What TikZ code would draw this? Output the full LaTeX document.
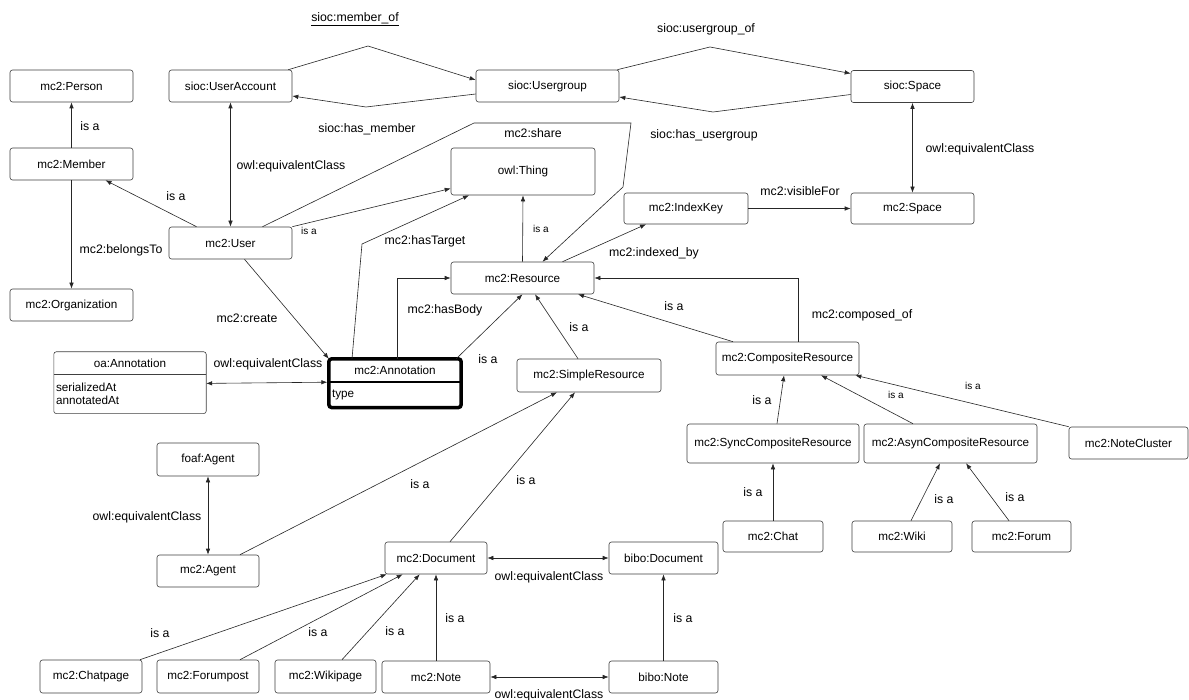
\documentclass[tikz,border=0pt]{standalone}
\usepackage{fontspec}
\setmainfont{Liberation Sans}
\usetikzlibrary{arrows.meta, positioning}

\begin{document}
\begin{tikzpicture}[
    x=1pt, y=-1pt,
    every node/.style={font=\fontsize{11.7}{12.5}\selectfont},
    cls/.style={draw=black!75, line width=0.6pt, rounded corners=2.5pt, minimum width=123pt, minimum height=32pt, inner sep=0pt},
    part/.style={inner sep=0pt},
    lbl/.style={font=\fontsize{12.3}{14}\selectfont, inner sep=0pt},
    slbl/.style={font=\fontsize{10}{12}\selectfont, inner sep=0pt},
    rel/.style={line width=0.6pt, black!85},
    >={Latex[length=6pt,width=4.5pt]},
  ]
  \path[use as bounding box, fill=white] (0,0) rectangle (1189,700);

  % sioc side
  \node[cls] (person) at (71.5,86) {mc2:Person};
  \node[cls] (uacc) at (230.5,86) {sioc:UserAccount};
  \node[cls, minimum width=143pt] (ugroup) at (547.5,86) {sioc:Usergroup};
  \node[cls] (sspace) at (912.5,86.5) {sioc:Space};
  \node[cls] (member) at (71.5,164) {mc2:Member};
  \node[cls] (user) at (230.5,243) {mc2:User};
  \node[cls] (org) at (71.5,305) {mc2:Organization};
  \node[cls, minimum width=144pt, minimum height=47pt] (thing) at (523,171.5) {owl:Thing};
  \node[cls, minimum width=124pt, minimum height=31pt] (idx) at (686,208.5) {mc2:IndexKey};
  \node[cls, minimum height=31pt] (mspace) at (912.5,208.5) {mc2:Space};

  % resources
  \node[cls, minimum width=143pt] (res) at (522.5,278) {mc2:Resource};
  \node[cls, minimum width=144pt, minimum height=33pt] (simple) at (589,375.5) {mc2:SimpleResource};
  \node[cls, minimum width=143pt, minimum height=33pt] (comp) at (787.5,358.5) {mc2:CompositeResource};
  \node[cls, minimum width=172pt, minimum height=39pt] (sync) at (773,443.5) {mc2:SyncCompositeResource};
  \node[cls, minimum width=173pt, minimum height=39pt] (asyn) at (950.5,443.5) {mc2:AsynCompositeResource};
  \node[cls, minimum width=119pt] (ncluster) at (1128.5,443) {mc2:NoteCluster};
  \node[cls, minimum width=100pt, minimum height=31pt] (chat) at (773,536.5) {mc2:Chat};
  \node[cls, minimum width=100pt, minimum height=31pt] (wiki) at (902,536.5) {mc2:Wiki};
  \node[cls, minimum width=99pt, minimum height=31pt] (forum) at (1021.5,536.5) {mc2:Forum};

  % agents and documents
  \node[cls, minimum width=102pt, minimum height=33pt] (foaf) at (208,459.5) {foaf:Agent};
  \node[cls, minimum width=102pt] (magent) at (208,571) {mc2:Agent};
  \node[cls, minimum width=102pt] (doc) at (436,558) {mc2:Document};
  \node[cls, minimum width=109pt] (bdoc) at (663.5,558) {bibo:Document};
  \node[cls, minimum width=102pt, minimum height=33pt] (cpage) at (91,676.5) {mc2:Chatpage};
  \node[cls, minimum width=102pt, minimum height=33pt] (fpost) at (208,676.5) {mc2:Forumpost};
  \node[cls, minimum width=101pt, minimum height=33pt] (wpage) at (325.5,676.5) {mc2:Wikipage};
  \node[cls, minimum width=108pt] (note) at (436,677) {mc2:Note};
  \node[cls, minimum width=109pt] (bnote) at (663.5,677) {bibo:Note};

  % annotation classes
  \node[part, minimum width=152pt, minimum height=22pt] (oahead) at (130,363) {oa:Annotation};
  \node[part, minimum width=152pt, minimum height=39pt, text width=148pt, align=left, anchor=north] (oabody) at (oahead.south) {serializedAt\\annotatedAt};
  \draw[line width=0.6pt, draw=black!75, rounded corners=2.5pt] (oahead.north west) rectangle (oabody.south east);
  \draw[line width=0.6pt, draw=black!75] (oahead.south west) -- (oahead.south east);

  \node[part, minimum width=132pt, minimum height=23pt] (annhead) at (395,370.5) {mc2:Annotation};
  \node[part, minimum width=132pt, minimum height=25pt, text width=126pt, align=left, anchor=north] (annbody) at (annhead.south) {type};
  \draw[line width=3.5pt, rounded corners=3pt] (annhead.north west) rectangle (annbody.south east);
  \draw[line width=2.5pt] (annhead.south west) -- (annhead.south east);

  % connectors
  \draw[rel, ->] ([xshift=-4pt]uacc.north east) -- (368,46) -- ([yshift=6pt]ugroup.west);
  \draw[rel, ->] ([yshift=-8pt]ugroup.west) -- (366,107) -- ([yshift=-10pt]uacc.east);
  \draw[rel, ->] ([xshift=-2pt]ugroup.north east) -- (710,47) -- ([yshift=13pt]sspace.west);
  \draw[rel, ->] ([yshift=-8pt]sspace.west) -- (713,112) -- ([yshift=-11pt]ugroup.east);
  \draw[rel, <->] (sspace.south) -- (mspace.north);
  \draw[rel, ->] (idx.east) -- (mspace.west);

  \draw[rel, ->] (member.north) -- (person.south);
  \draw[rel, ->] (member.south) -- (org.north);
  \draw[rel, <->] (uacc.south) -- (user.north);
  \draw[rel, ->] ([xshift=-34pt]user.north) -- ([xshift=34pt]member.south);
  \draw[rel, ->] (user.north east) -- ([yshift=-17pt]thing.west);
  \draw[rel, ->] ([xshift=32pt]user.north) -- (474,123) -- (631,123) -- (623,187) -- ([xshift=20pt]res.north);
  \draw[rel, ->] ([xshift=14pt]user.south) -- (annhead.north west);

  \draw[rel, ->] ([xshift=-43pt]annhead.north) -- (362,244) -- ([xshift=-54pt]thing.south);
  \draw[rel, ->] ([xshift=2pt]annhead.north) |- (res.west);
  \draw[rel, ->] ([xshift=-5pt]annhead.north east) -- (res.south);
  \draw[rel, <->] ([yshift=10.5pt]oabody.east) -- ([xshift=-1.5pt]annhead.south west);

  \draw[rel, ->] (res.north) -- (thing.south);
  \draw[rel, ->] ([xshift=40pt]res.north) -- ([xshift=-40pt]idx.south);
  \draw[rel, ->] ([xshift=-11pt]simple.north) -- ([xshift=12.5pt]res.south);
  \draw[rel, ->] ([xshift=-54.5pt]comp.north) -- ([xshift=55.5pt]res.south);
  \draw[rel, ->] ([xshift=10.5pt]comp.north) |- (res.east);

  \draw[rel, ->] ([xshift=4pt]sync.north) -- ([xshift=-3.5pt]comp.south);
  \draw[rel, ->] ([xshift=-37.5pt]asyn.north) -- ([xshift=33.5pt]comp.south);
  \draw[rel, ->] (ncluster.north west) -- ([xshift=-4pt]comp.south east);
  \draw[rel, ->] (chat.north) -- (sync.south);
  \draw[rel, ->] ([xshift=9pt]wiki.north) -- ([xshift=-10.5pt]asyn.south);
  \draw[rel, ->] ([xshift=-12.5pt]forum.north) -- ([xshift=15.5pt]asyn.south);

  \draw[rel, <->] (foaf.south) -- (magent.north);
  \draw[rel, ->] ([xshift=32pt]magent.north) -- ([xshift=-32pt]simple.south);
  \draw[rel, ->] ([xshift=14pt]doc.north) -- ([xshift=-14pt]simple.south);
  \draw[rel, <->] (doc.east) -- (bdoc.west);
  \draw[rel, ->] ([xshift=49pt]cpage.north) -- ([xshift=2pt]doc.south west);
  \draw[rel, ->] ([xshift=32pt]fpost.north) -- ([xshift=18pt]doc.south west);
  \draw[rel, ->] ([xshift=16.5pt]wpage.north) -- ([xshift=35pt]doc.south west);
  \draw[rel, ->] (note.north) -- (doc.south);
  \draw[rel, ->] (bnote.north) -- (bdoc.south);
  \draw[rel, <->] (note.east) -- (bnote.west);

  % labels
  \node[lbl] (l-memberof) at (355,19) {\underline{sioc:member\_of}};
  \node[lbl] (l-hasmember) at (367,129) {sioc:has\_member};
  \node[lbl] (l-groupof) at (706,29) {sioc:usergroup\_of};
  \node[lbl] (l-hasgroup) at (704,135) {sioc:has\_usergroup};
  \node[lbl] (l-eqspace) at (980,149) {owl:equivalentClass};
  \node[lbl] (l-visible) at (800,191) {mc2:visibleFor};
  \node[lbl] (l-isa-person) at (90,126) {is a};
  \node[lbl] (l-eqaccount) at (291,166) {owl:equivalentClass};
  \node[lbl] (l-isa-member) at (176,196) {is a};
  \node[slbl] (l-isa-uthing) at (309,231) {is a};
  \node[lbl] (l-share) at (533,133) {mc2:share};
  \node[lbl] (l-belongs) at (121,250) {mc2:belongsTo};
  \node[lbl] (l-target) at (425,241) {mc2:hasTarget};
  \node[slbl] (l-isa-rthing) at (541,229) {is a};
  \node[lbl] (l-indexed) at (654,253) {mc2:indexed\_by};
  \node[lbl] (l-create) at (247,318) {mc2:create};
  \node[lbl] (l-body) at (445,310) {mc2:hasBody};
  \node[lbl] (l-isa-annot) at (488,359) {is a};
  \node[lbl] (l-eqannot) at (268,364) {owl:equivalentClass};
  \node[lbl] (l-isa-simple) at (579,327) {is a};
  \node[lbl] (l-isa-comp) at (674,306) {is a};
  \node[lbl] (l-composed) at (862,315) {mc2:composed\_of};
  \node[lbl] (l-isa-sync) at (762,400) {is a};
  \node[slbl] (l-isa-asyn) at (896,395) {is a};
  \node[slbl] (l-isa-ncluster) at (973,386) {is a};
  \node[lbl] (l-isa-chat) at (753,492) {is a};
  \node[lbl] (l-isa-wiki) at (944,499) {is a};
  \node[lbl] (l-isa-forum) at (1015,497) {is a};
  \node[lbl] (l-eqagent) at (147,517) {owl:equivalentClass};
  \node[lbl] (l-isa-agent) at (420,484) {is a};
  \node[lbl] (l-isa-doc) at (526,480) {is a};
  \node[lbl] (l-eqdoc) at (549,577) {owl:equivalentClass};
  \node[lbl] (l-isa-cpage) at (160,633) {is a};
  \node[lbl] (l-isa-fpost) at (318,632) {is a};
  \node[lbl] (l-isa-wpage) at (395,631) {is a};
  \node[lbl] (l-isa-note) at (455,618) {is a};
  \node[lbl] (l-isa-bnote) at (683,618) {is a};
  \node[lbl] (l-eqnote) at (549,695) {owl:equivalentClass};
\end{tikzpicture}
\end{document}
